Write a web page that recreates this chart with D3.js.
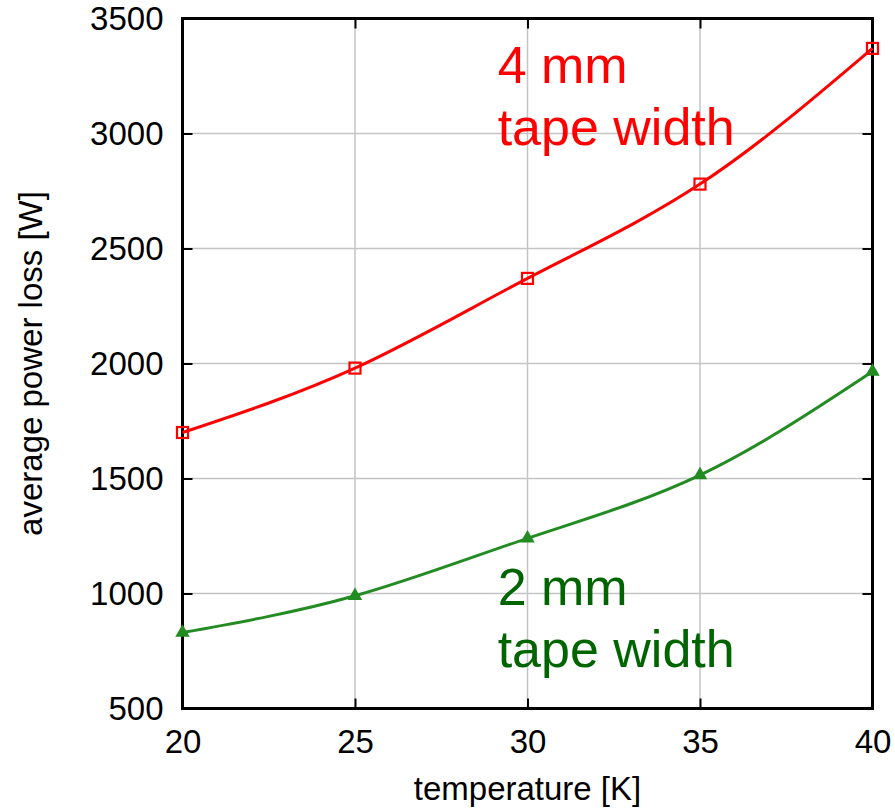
<!DOCTYPE html>
<html>
<head>
<meta charset="utf-8">
<script src="https://cdn.jsdelivr.net/npm/d3@7"></script>
<style>
  html, body { margin: 0; padding: 0; background: #fff; }
  svg { display: block; font-family: "Liberation Sans", Arial, sans-serif; }
</style>
</head>
<body>
<svg id="chart" width="895" height="810"></svg>
<script>
// Data
const temperatures = [20, 25, 30, 35, 40];
const loss4mm = [1700, 1980, 2370, 2780, 3370];
const loss2mm = [830, 990, 1240, 1515, 1965];
const xTicks = [20, 25, 30, 35, 40];
const yTicks = [500, 1000, 1500, 2000, 2500, 3000, 3500];
const xLabel = "temperature [K]";
const yLabel = "average power loss [W]";
const label4 = ["4 mm", "tape width"];
const label2 = ["2 mm", "tape width"];

const svg = d3.select("#chart");
const margin = { left: 182.5, right: 895 - 872.5, top: 18.5, bottom: 810 - 708.5 };
const W = 895, H = 810;
const x = d3.scaleLinear().domain([20, 40]).range([margin.left, W - margin.right]);
const y = d3.scaleLinear().domain([500, 3500]).range([H - margin.bottom, margin.top]);

const x0 = x.range()[0], x1 = x.range()[1], y0 = y.range()[0], y1 = y.range()[1];

// grid
const grid = svg.append("g");
grid.selectAll("line.gx").data(xTicks.slice(1, -1)).join("line")
  .attr("x1", d => x(d)).attr("x2", d => x(d)).attr("y1", y0).attr("y2", y1)
  .attr("stroke", "#c4c4c4").attr("stroke-width", 1.5);
grid.selectAll("line.gy").data(yTicks.slice(1, -1)).join("line")
  .attr("y1", d => y(d)).attr("y2", d => y(d)).attr("x1", x0).attr("x2", x1)
  .attr("stroke", "#c4c4c4").attr("stroke-width", 1.5);

// axes with inward ticks (all four sides)
const tickLen = 10;
const axB = svg.append("g").attr("transform", `translate(0,${y0})`)
  .call(d3.axisBottom(x).tickValues(xTicks).tickSize(-tickLen).tickPadding(21).tickFormat(d3.format("d")));
const axT = svg.append("g").attr("transform", `translate(0,${y1})`)
  .call(d3.axisTop(x).tickValues(xTicks).tickSize(-tickLen).tickFormat(""));
const axL = svg.append("g").attr("transform", `translate(${x0},0)`)
  .call(d3.axisLeft(y).tickValues(yTicks).tickSize(-tickLen).tickPadding(19).tickFormat(d3.format("d")));
const axR = svg.append("g").attr("transform", `translate(${x1},0)`)
  .call(d3.axisRight(y).tickValues(yTicks).tickSize(-tickLen).tickFormat(""));
[axB, axT, axL, axR].forEach(a => {
  a.select(".domain").remove();
  a.selectAll(".tick line").attr("stroke", "#000").attr("stroke-width", 2);
  a.selectAll("text").attr("fill", "#000").style("font-size", "33px")
    .style("font-family", "'Liberation Sans', Arial, sans-serif");
});
axB.selectAll("text").attr("dy", "0.71em");

// frame
svg.append("rect").attr("x", x0).attr("y", y1).attr("width", x1 - x0).attr("height", y0 - y1)
  .attr("fill", "none").attr("stroke", "#000").attr("stroke-width", 3);

// curves
const line = d3.line().x(d => x(d[0])).y(d => y(d[1])).curve(d3.curveNatural);
const d4 = temperatures.map((t, i) => [t, loss4mm[i]]);
const d2 = temperatures.map((t, i) => [t, loss2mm[i]]);

svg.append("path").datum(d4).attr("d", line).attr("fill", "none")
  .attr("stroke", "#ff0000").attr("stroke-width", 3);
svg.append("path").datum(d2).attr("d", line).attr("fill", "none")
  .attr("stroke", "#228b22").attr("stroke-width", 3);

// markers
svg.selectAll("rect.m4").data(d4).join("rect")
  .attr("x", d => x(d[0]) - 5.5).attr("y", d => y(d[1]) - 5.5)
  .attr("width", 11).attr("height", 11)
  .attr("fill", "none").attr("stroke", "#ff0000").attr("stroke-width", 2.2);
const tri = d3.symbol().type(d3.symbolTriangle).size(90);
svg.selectAll("path.m2").data(d2).join("path")
  .attr("transform", d => `translate(${x(d[0])},${y(d[1])})`)
  .attr("d", tri).attr("fill", "#228b22");

// annotations
const ann = (lines, xv, yv, color) => {
  const t = svg.append("text").attr("x", x(xv)).attr("y", y(yv))
    .attr("fill", color).style("font-size", "52px");
  lines.forEach((s, i) => t.append("tspan").attr("x", x(xv)).attr("dy", i === 0 ? 0 : 62).text(s));
};
ann(label4, 29.135, y.invert(83), "#ff0000");
ann(label2, 29.135, y.invert(605), "#006400");

// axis titles
svg.append("text").attr("x", (x0 + x1) / 2).attr("y", 800).attr("text-anchor", "middle")
  .style("font-size", "33px").attr("fill", "#000").text(xLabel);
svg.append("text").attr("transform", `translate(42,${(y0 + y1) / 2}) rotate(-90)`)
  .attr("text-anchor", "middle").style("font-size", "33px").attr("fill", "#000").text(yLabel);
</script>
</body>
</html>
